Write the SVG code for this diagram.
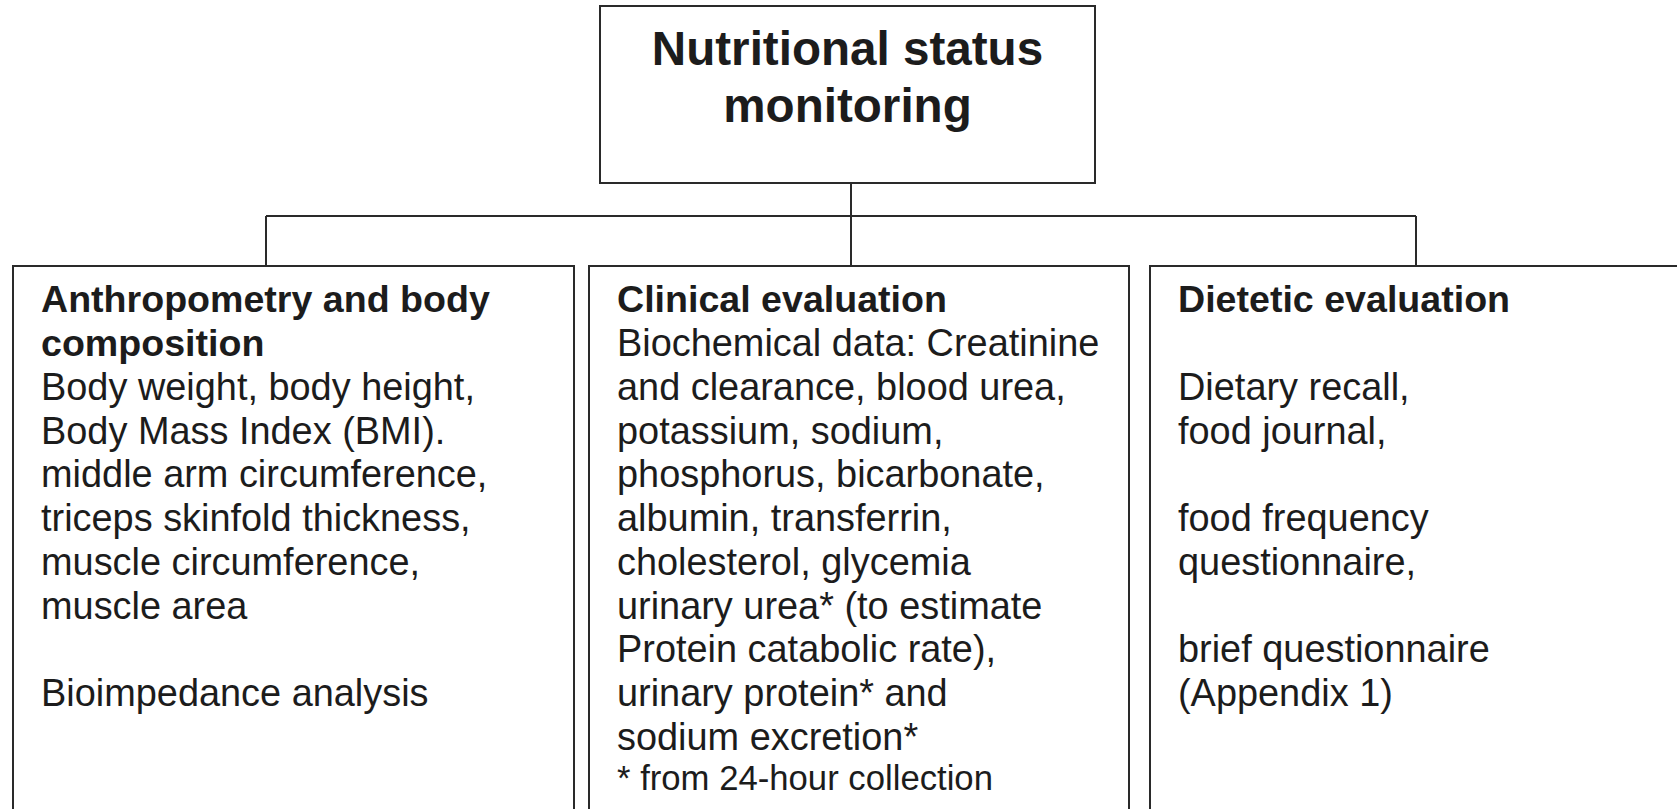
<svg xmlns="http://www.w3.org/2000/svg" width="1677" height="809" viewBox="0 0 1677 809">
<style>
  .box { fill: #ffffff; stroke: #2a2a2a; stroke-width: 2; }
  .conn { fill: none; stroke: #2a2a2a; stroke-width: 2; }
  .title { font-family: "Liberation Sans", Arial, sans-serif; font-weight: bold; font-size: 47.6px; fill: #1c1c1c; text-anchor: middle; }
  .head { font-family: "Liberation Sans", Arial, sans-serif; font-weight: bold; font-size: 37.6px; fill: #1c1c1c; }
  .body { font-family: "Liberation Sans", Arial, sans-serif; font-size: 37.9px; fill: #1c1c1c; }
  .note { font-family: "Liberation Sans", Arial, sans-serif; font-size: 34.7px; fill: #1c1c1c; }
</style>
<rect width="1677" height="809" fill="#ffffff"/>
<g id="connectors">
  <line class="conn" x1="851" y1="183" x2="851" y2="266"/>
  <line class="conn" x1="266" y1="216" x2="1416" y2="216"/>
  <line class="conn" x1="266" y1="216" x2="266" y2="266"/>
  <line class="conn" x1="1416" y1="216" x2="1416" y2="266"/>
</g>
<g id="node-root">
  <rect class="box" x="600" y="6" width="495" height="177"/>
  <text class="title" x="847.5" y="65">Nutritional status</text>
  <text class="title" x="847.5" y="122">monitoring</text>
</g>
<g id="node-anthropometry">
  <rect class="box" x="13" y="266" width="561" height="560"/>
  <text class="head" x="41" y="312">Anthropometry and body</text>
  <text class="head" x="41" y="356">composition</text>
  <text class="body" x="41" y="400">Body weight, body height,</text>
  <text class="body" x="41" y="444">Body Mass Index (BMI).</text>
  <text class="body" x="41" y="487">middle arm circumference,</text>
  <text class="body" x="41" y="531">triceps skinfold thickness,</text>
  <text class="body" x="41" y="575">muscle circumference,</text>
  <text class="body" x="41" y="619">muscle area</text>
  <text class="body" x="41" y="706">Bioimpedance analysis</text>
</g>
<g id="node-clinical">
  <rect class="box" x="589" y="266" width="540" height="560"/>
  <text class="head" x="617" y="312">Clinical evaluation</text>
  <text class="body" x="617" y="356">Biochemical data: Creatinine</text>
  <text class="body" x="617" y="400">and clearance, blood urea,</text>
  <text class="body" x="617" y="444">potassium, sodium,</text>
  <text class="body" x="617" y="487">phosphorus, bicarbonate,</text>
  <text class="body" x="617" y="531">albumin, transferrin,</text>
  <text class="body" x="617" y="575">cholesterol, glycemia</text>
  <text class="body" x="617" y="619">urinary urea* (to estimate</text>
  <text class="body" x="617" y="662">Protein catabolic rate),</text>
  <text class="body" x="617" y="706">urinary protein* and</text>
  <text class="body" x="617" y="750">sodium excretion*</text>
  <text class="note" x="617" y="790">* from 24-hour collection</text>
</g>
<g id="node-dietetic">
  <rect class="box" x="1150" y="266" width="560" height="560"/>
  <text class="head" x="1178" y="312">Dietetic evaluation</text>
  <text class="body" x="1178" y="400">Dietary recall,</text>
  <text class="body" x="1178" y="444">food journal,</text>
  <text class="body" x="1178" y="531">food frequency</text>
  <text class="body" x="1178" y="575">questionnaire,</text>
  <text class="body" x="1178" y="662">brief questionnaire</text>
  <text class="body" x="1178" y="706">(Appendix 1)</text>
</g>
</svg>
